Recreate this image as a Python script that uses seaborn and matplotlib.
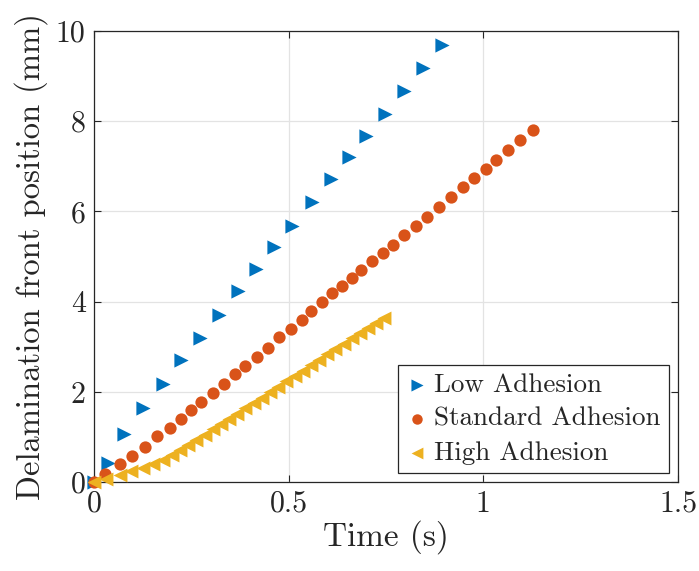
import numpy as np
import pandas as pd
import matplotlib
matplotlib.use("Agg")
import matplotlib.pyplot as plt
import seaborn as sns

# ---- data ----
low_t = [0.000, 0.035, 0.078, 0.127, 0.176, 0.224, 0.271, 0.320, 0.370, 0.417,
         0.462, 0.508, 0.560, 0.608, 0.656, 0.699, 0.747, 0.795, 0.844, 0.893]
low_y = [0.00, 0.42, 1.06, 1.64, 2.17, 2.70, 3.20, 3.71, 4.23, 4.73,
         5.20, 5.67, 6.20, 6.71, 7.21, 7.67, 8.17, 8.67, 9.19, 9.69]

std_t = [0.000, 0.028, 0.067, 0.097, 0.131, 0.163, 0.194, 0.223, 0.250, 0.276,
         0.306, 0.333, 0.363, 0.387, 0.418, 0.448, 0.476, 0.505, 0.533, 0.558,
         0.586, 0.611, 0.637, 0.662, 0.686, 0.714, 0.742, 0.767, 0.795, 0.826,
         0.855, 0.885, 0.918, 0.948, 0.976, 1.006, 1.033, 1.064, 1.094, 1.128]
std_y = [0.00, 0.18, 0.39, 0.58, 0.77, 1.01, 1.19, 1.39, 1.60, 1.77,
         1.98, 2.18, 2.40, 2.58, 2.77, 2.98, 3.21, 3.40, 3.60, 3.79,
         3.99, 4.18, 4.35, 4.52, 4.71, 4.90, 5.08, 5.26, 5.47, 5.67,
         5.88, 6.10, 6.32, 6.54, 6.73, 6.95, 7.14, 7.36, 7.58, 7.81]

high_t = [0.000, 0.032, 0.066, 0.096, 0.126, 0.152, 0.177, 0.200, 0.221, 0.242,
          0.263, 0.284, 0.305, 0.326, 0.347, 0.368, 0.389, 0.410, 0.431, 0.452,
          0.473, 0.494, 0.515, 0.536, 0.557, 0.578, 0.599, 0.620, 0.641, 0.662,
          0.683, 0.704, 0.725, 0.745]
high_y = [0.00, 0.06, 0.16, 0.24, 0.32, 0.40, 0.49, 0.60, 0.71, 0.83,
          0.94, 1.05, 1.17, 1.28, 1.40, 1.51, 1.63, 1.75, 1.87, 1.99,
          2.11, 2.23, 2.35, 2.47, 2.59, 2.71, 2.83, 2.95, 3.07, 3.19,
          3.31, 3.42, 3.53, 3.64]

series_names = ["Low Adhesion", "Standard Adhesion", "High Adhesion"]
series_colors = ["#0072BD", "#D95319", "#EDB120"]
series_markers = [">", "o", "<"]

x_ticks = [0, 0.5, 1, 1.5]
x_ticklabels = ["0", "0.5", "1", "1.5"]
y_ticks = [0, 2, 4, 6, 8, 10]
y_ticklabels = ["0", "2", "4", "6", "8", "10"]

# ---- style ----
sns.set_style("ticks")
plt.rcParams["font.family"] = ["cmr10", "DejaVu Serif"]
plt.rcParams["mathtext.fontset"] = "cm"
plt.rcParams["axes.formatter.use_mathtext"] = True

fig = plt.figure(figsize=(6.99, 5.71), dpi=100)
ax = fig.add_axes([94 / 699, 1 - 482 / 571, (678 - 94) / 699, (482 - 31) / 571])

frames = [
    pd.DataFrame({"t": low_t, "y": low_y, "series": series_names[0]}),
    pd.DataFrame({"t": std_t, "y": std_y, "series": series_names[1]}),
    pd.DataFrame({"t": high_t, "y": high_y, "series": series_names[2]}),
]
sizes = [105, 78, 100]
for df, name, col, mk, s in zip(frames, series_names, series_colors, series_markers, sizes):
    sns.scatterplot(data=df, x="t", y="y", ax=ax, color=col, marker=mk, s=s,
                    linewidth=0, label=name, zorder=3, clip_on=False)

ax.set_xlim(0, 1.5)
ax.set_ylim(0, 10)
ax.set_xticks(x_ticks)
ax.set_xticklabels(x_ticklabels)
ax.set_yticks(y_ticks)
ax.set_yticklabels(y_ticklabels)
ax.grid(True, color="#e3e3e3", linewidth=0.9, zorder=0)
ax.set_axisbelow(True)
for sp in ax.spines.values():
    sp.set_visible(True)
    sp.set_color("#262626")
    sp.set_linewidth(0.9)
ax.tick_params(direction="in", length=5, width=0.8, colors="#262626",
               labelsize=21.5, top=True, right=True, pad=6)
for lab in ax.get_xticklabels() + ax.get_yticklabels():
    lab.set_color("#262626")

ax.set_xlabel("Time (s)", fontsize=24, color="#262626", labelpad=2)
ax.set_ylabel("Delamination front position (mm)", fontsize=23.5, color="#262626", labelpad=6)

leg = ax.legend(loc="lower right", fontsize=19.5, frameon=True, fancybox=False,
                edgecolor="#262626", framealpha=1, borderpad=0.32, labelspacing=0.36,
                handlelength=0.75, handletextpad=0.25, borderaxespad=0.32,
                markerscale=0.85)
leg.get_frame().set_linewidth(0.9)

fig.savefig("out.png", dpi=100)
